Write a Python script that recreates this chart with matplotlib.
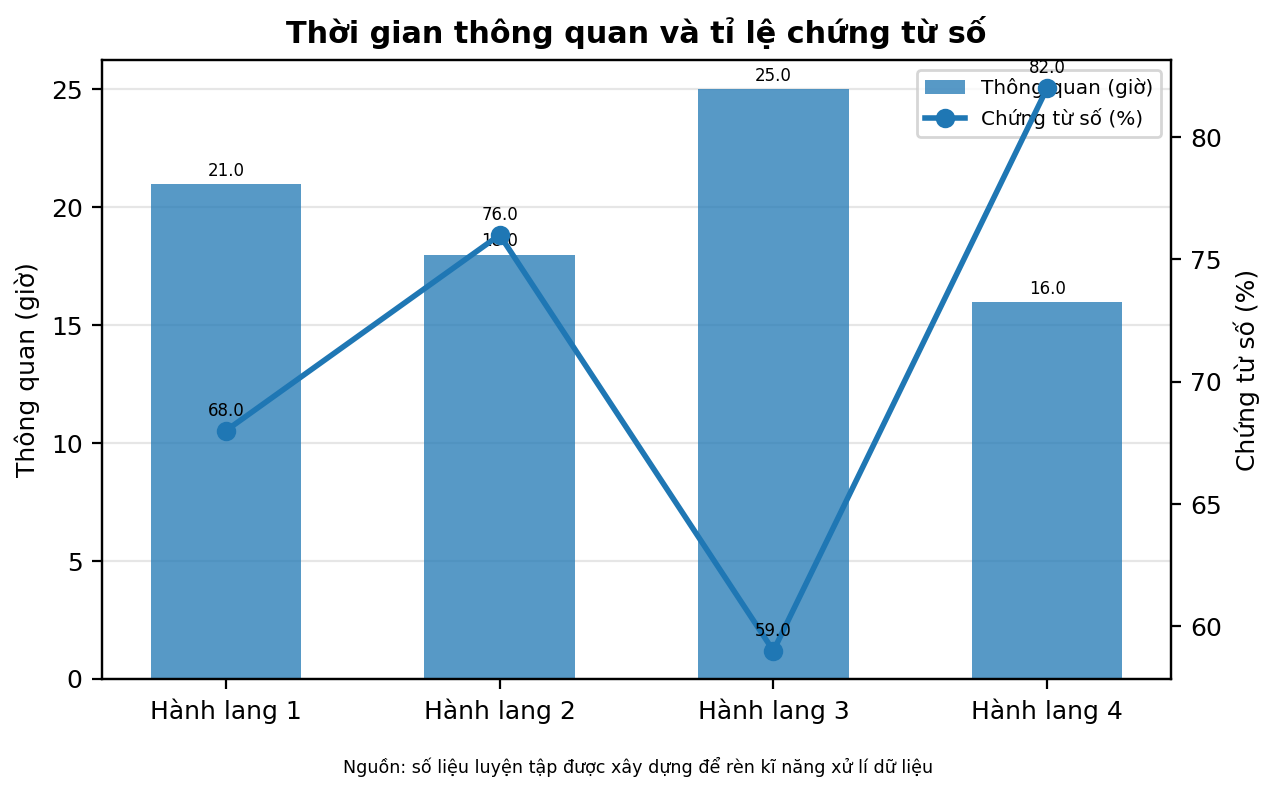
import matplotlib
matplotlib.use("Agg")
import matplotlib.pyplot as plt
import numpy as np

categories = ["Hành lang 1", "Hành lang 2", "Hành lang 3", "Hành lang 4"]
clearance_hours = [21.0, 18.0, 25.0, 16.0]
digital_docs_pct = [68.0, 76.0, 59.0, 82.0]

plt.rcParams['font.family'] = ['DejaVu Sans']

DPI = 200
fig = plt.figure(figsize=(1276/DPI, 795/DPI), dpi=DPI)
ax = fig.add_axes([0.08, 0.146, 0.8377, 0.7785])
x = np.arange(len(categories))
bars = ax.bar(x, clearance_hours, width=0.55, color='#1f77b4', alpha=0.75,
              label='Thông quan (giờ)', zorder=2)
ax.set_axisbelow(True)
ax.grid(axis='y', color='#e6e6e6', linewidth=0.8, zorder=0)
ax.set_xticks(x)
ax.set_xticklabels(categories, fontsize=9)
ax.tick_params(axis='y', labelsize=9)
ax.set_ylabel('Thông quan (giờ)', fontsize=9)
for b, v in zip(bars, clearance_hours):
    ax.annotate(f"{v:.1f}", (b.get_x() + b.get_width()/2, v), xytext=(0, 1.5),
                textcoords='offset points', ha='center', va='bottom', fontsize=6)

ax2 = ax.twinx()
ln, = ax2.plot(x, digital_docs_pct, color='#1f77b4', linewidth=2, marker='o',
               markersize=6, label='Chứng từ số (%)')
ax2.set_ylabel('Chứng từ số (%)', fontsize=9)
ax2.tick_params(axis='y', labelsize=9)
for xi, v in zip(x, digital_docs_pct):
    ax2.annotate(f"{v:.1f}", (xi, v), xytext=(0, 4), textcoords='offset points',
                 ha='center', va='bottom', fontsize=6)

h1, l1 = ax.get_legend_handles_labels()
h2, l2 = ax2.get_legend_handles_labels()
ax.legend(h1 + h2, l1 + l2, loc='upper right', fontsize=7.2)

ax.set_title('Thời gian thông quan và tỉ lệ chứng từ số', fontsize=10.9, fontweight='bold')
fig.text(0.5, 0.035, 'Nguồn: số liệu luyện tập được xây dựng để rèn kĩ năng xử lí dữ liệu',
         ha='center', va='center', fontsize=6.3)

fig.savefig('out.png', dpi=DPI)
